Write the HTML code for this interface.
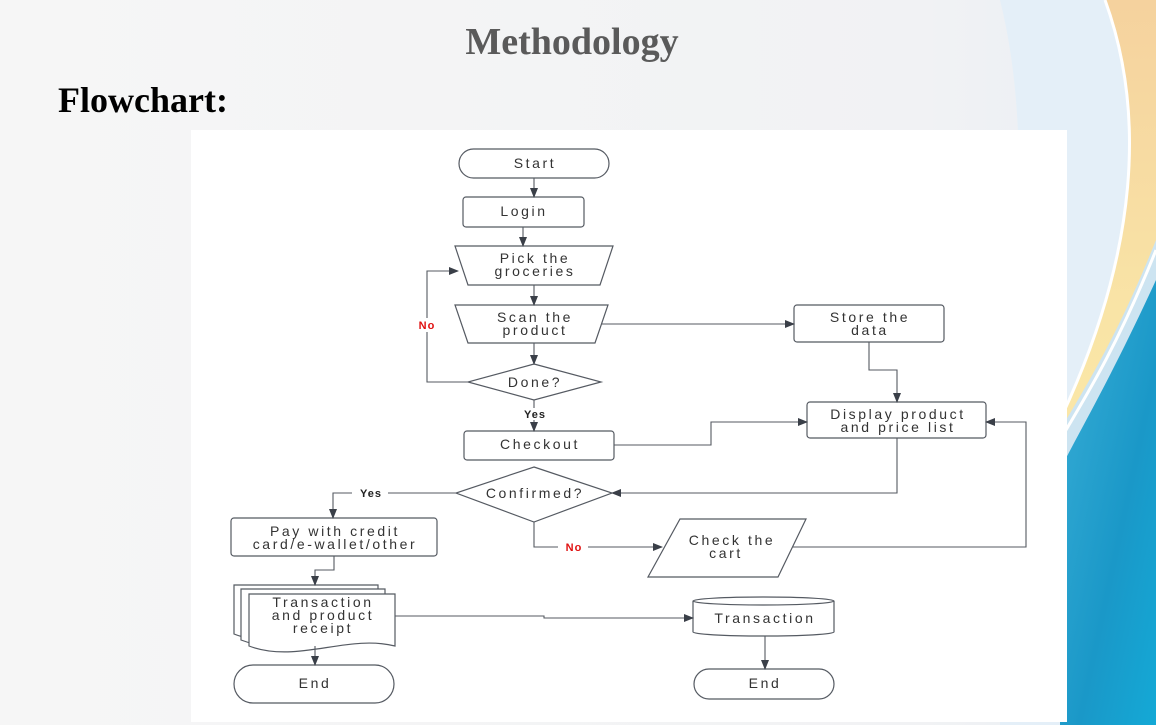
<!DOCTYPE html>
<html><head><meta charset="utf-8"><style>
html,body{margin:0;padding:0;width:1156px;height:725px;overflow:hidden;background:#f4f4f5}
svg{display:block}
</style></head><body>
<svg width="1156" height="725" viewBox="0 0 1156 725" xmlns="http://www.w3.org/2000/svg" font-family="Liberation Sans, sans-serif">
<defs>
<linearGradient id="bg" x1="0" y1="0" x2="1" y2="0"><stop offset="0" stop-color="#f6f6f6"/><stop offset="0.8" stop-color="#f1f2f4"/><stop offset="1" stop-color="#e8eef4"/></linearGradient>
<linearGradient id="org" x1="0" y1="0" x2="0" y2="1"><stop offset="0" stop-color="#f5d29e"/><stop offset="0.6" stop-color="#f9e4a6"/><stop offset="1" stop-color="#fbe9a8"/></linearGradient>
<linearGradient id="blu" x1="0" y1="0" x2="1" y2="1"><stop offset="0" stop-color="#3aaed6"/><stop offset="0.6" stop-color="#1a98c8"/><stop offset="1" stop-color="#14a9d6"/></linearGradient>
<marker id="a" markerWidth="10" markerHeight="8" refX="9" refY="4" orient="auto" markerUnits="userSpaceOnUse"><path d="M0,0 L10,4 L0,8 z" fill="#3a3f48"/></marker>
</defs>
<rect width="1156" height="725" fill="url(#bg)"/>
<path d="M1000,0 C1030,120 1020,260 1000,420 L1000,725 L1156,725 L1156,0 Z" fill="#e4eff8"/>
<path d="M1105,0 C1145,110 1140,250 1060,420 L1060,520 C1120,360 1156,280 1156,250 L1156,0 Z" fill="url(#org)"/>
<path d="M1105,0 C1145,110 1140,250 1060,420" stroke="#fff" stroke-width="3" fill="none"/>
<path d="M1156,240 C1120,330 1090,380 1060,430 L1060,725 L1156,725 Z" fill="#cde4f1"/>
<path d="M1156,250 C1120,340 1090,390 1060,440" stroke="#fff" stroke-width="3" fill="none"/>
<path d="M1156,280 C1110,380 1080,430 1060,470 L1060,725 L1156,725 Z" fill="url(#blu)"/>
<text x="572" y="54" text-anchor="middle" font-family="Liberation Serif, serif" font-weight="bold" font-size="38" fill="#5a5a5a">Methodology</text>
<text x="58" y="112" font-family="Liberation Serif, serif" font-weight="bold" font-size="36" fill="#000">Flowchart:</text>
<rect x="191" y="130" width="876" height="592" fill="#fff"/>
<g fill="#fff" stroke="#555a62" stroke-width="1.2">
<rect x="459" y="149" width="150" height="29" rx="14.5"/>
<rect x="463" y="197" width="121" height="30" rx="3"/>
<path d="M455,246 L613,246 L600,285 L468,285 Z"/>
<path d="M455,305 L608,305 L595,343 L468,343 Z"/>
<rect x="794" y="305" width="150" height="37" rx="3"/>
<path d="M534,364 L601,382 L534,400 L468,382 Z"/>
<rect x="464" y="431" width="150" height="29" rx="3"/>
<rect x="807" y="402" width="179" height="36" rx="3"/>
<path d="M534,467 L612,493 L534,522 L456,493 Z"/>
<rect x="231" y="518" width="206" height="38" rx="3"/>
<path d="M680,519 L806,519 L778,577 L648,577 Z"/>
<path d="M234,585 L378,585 L378,634 C330,622 280,652 234,634 Z"/>
<path d="M241,589 L385,589 L385,640 C337,628 287,658 241,640 Z"/>
<path d="M249,594 L395,594 L395,646 C347,634 297,664 249,646 Z"/>
<rect x="234" y="665" width="160" height="38" rx="19"/>
<path d="M693,601 L693,632 A70,4 0 0 0 834,632 L834,601"/>
<ellipse cx="763.5" cy="601" rx="70.5" ry="4"/>
<rect x="694" y="669" width="140" height="30" rx="15"/>
</g>
<g fill="none" stroke="#555a62" stroke-width="1.1">
<path d="M534,178 L534,197" marker-end="url(#a)"/>
<path d="M523,227 L523,246" marker-end="url(#a)"/>
<path d="M534,285 L534,305" marker-end="url(#a)"/>
<path d="M534,343 L534,364" marker-end="url(#a)"/>
<path d="M468,382 L427,382 L427,271 L458,271" marker-end="url(#a)"/>
<path d="M601,324 L794,324" marker-end="url(#a)"/>
<path d="M534,400 L534,431" marker-end="url(#a)"/>
<path d="M869,342 L869,370 L897,370 L897,402" marker-end="url(#a)"/>
<path d="M614,445 L711,445 L711,422 L807,422" marker-end="url(#a)"/>
<path d="M897,438 L897,493 L612,493" marker-end="url(#a)"/>
<path d="M456,493 L333,493 L333,518" marker-end="url(#a)"/>
<path d="M534,522 L534,547 L662,547" marker-end="url(#a)"/>
<path d="M792,547 L1026,547 L1026,422 L986,422" marker-end="url(#a)"/>
<path d="M334,556 L334,570 L315,570 L315,585" marker-end="url(#a)"/>
<path d="M395,616 L544,616 L544,618 L693,618" marker-end="url(#a)"/>
<path d="M315,646 L315,665" marker-end="url(#a)"/>
<path d="M765,636 L765,669" marker-end="url(#a)"/>
</g>
<g fill="#333" font-size="14" text-anchor="middle" letter-spacing="2.6">
<text x="535" y="168">Start</text>
<text x="524" y="216">Login</text>
<text x="535" y="263">Pick the</text><text x="535" y="276">groceries</text>
<text x="535" y="322">Scan the</text><text x="535" y="335">product</text>
<text x="870" y="322">Store the</text><text x="870" y="335">data</text>
<text x="535" y="387">Done?</text>
<text x="540" y="449">Checkout</text>
<text x="898" y="419">Display product</text><text x="898" y="432">and price list</text>
<text x="535" y="498">Confirmed?</text>
<text x="335" y="536">Pay with credit</text><text x="335" y="549">card/e-wallet/other</text>
<text x="732" y="545">Check the</text><text x="726" y="558">cart</text>
<text x="323" y="607">Transaction</text><text x="323" y="620">and product</text><text x="323" y="633">receipt</text>
<text x="315" y="688">End</text>
<text x="765" y="623">Transaction</text>
<text x="765" y="688">End</text>
</g>
<g font-size="11" font-weight="bold" text-anchor="middle" letter-spacing="1">
<rect x="412" y="318" width="28" height="14" fill="#fff"/>
<text x="427" y="329" fill="#e01010">No</text>
<rect x="516" y="408" width="36" height="12" fill="#fff"/>
<text x="535" y="418" fill="#222">Yes</text>
<rect x="352" y="487" width="36" height="12" fill="#fff"/>
<text x="371" y="497" fill="#222">Yes</text>
<rect x="558" y="541" width="30" height="12" fill="#fff"/>
<text x="574" y="551" fill="#e01010">No</text>
</g>
</svg>
</body></html>
